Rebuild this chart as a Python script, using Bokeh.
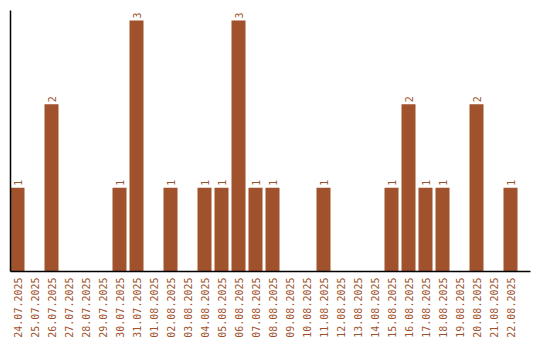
import math
from bokeh.plotting import figure
from bokeh.models import ColumnDataSource, Range1d, FixedTicker
from bokeh.core.properties import value
from bokeh.embed import file_html
from bokeh.resources import INLINE

dates = ["24.07.2025", "25.07.2025", "26.07.2025", "27.07.2025", "28.07.2025",
         "29.07.2025", "30.07.2025", "31.07.2025", "01.08.2025", "02.08.2025",
         "03.08.2025", "04.08.2025", "05.08.2025", "06.08.2025", "07.08.2025",
         "08.08.2025", "09.08.2025", "10.08.2025", "11.08.2025", "12.08.2025",
         "13.08.2025", "14.08.2025", "15.08.2025", "16.08.2025", "17.08.2025",
         "18.08.2025", "19.08.2025", "20.08.2025", "21.08.2025", "22.08.2025"]
counts = [1, 0, 2, 0, 0, 0, 1, 3, 0, 1,
          0, 1, 1, 3, 1, 1, 0, 0, 1, 0,
          0, 0, 1, 2, 1, 1, 0, 2, 0, 1]

COLOR = "#A0522D"
FONT = "DejaVu Sans Mono"
bar_w = 14 / 17
centers = [i + bar_w / 2 for i in range(len(dates))]

src = ColumnDataSource(dict(x=centers, y=counts))
lab_x = [c for c, v in zip(centers, counts) if v > 0]
lab_y = [v for v in counts if v > 0]
lab_t = [str(v) for v in counts if v > 0]
lsrc = ColumnDataSource(dict(x=lab_x, y=lab_y, t=lab_t))

p = figure(width=540, height=340, output_backend="svg", toolbar_location=None,
           x_range=Range1d(0, 520 / 17), y_range=Range1d(0, 3.12),
           min_border_left=10, min_border_top=10, min_border_right=10,
           min_border_bottom=0)
p.vbar(x="x", top="y", width=bar_w, bottom=0, source=src,
       fill_color=COLOR, line_color=None)
p.text(x="x", y="y", text="t", source=lsrc, angle=math.pi / 2,
       text_align="left", text_baseline="middle", y_offset=-2,
       text_font=value(FONT), text_font_size="10px", text_color=COLOR)

p.xgrid.visible = False
p.ygrid.visible = False
p.outline_line_color = None

xa = p.xaxis[0]
xa.ticker = FixedTicker(ticks=centers)
xa.major_label_overrides = {c: d for c, d in zip(centers, dates)}
xa.major_label_orientation = math.pi / 2
xa.major_label_text_font = FONT
xa.major_label_text_font_size = "10px"
xa.major_label_text_color = COLOR
xa.major_tick_line_color = None
xa.minor_tick_line_color = None
xa.major_tick_out = 0
xa.major_label_standoff = 6
xa.axis_line_color = "black"
xa.axis_line_width = 1.5

ya = p.yaxis[0]
ya.ticker = FixedTicker(ticks=[])
ya.major_tick_line_color = None
ya.minor_tick_line_color = None
ya.major_tick_out = 0
ya.major_label_standoff = 0
ya.axis_line_color = "black"
ya.axis_line_width = 1.5

open("out.html", "w").write(file_html(p, INLINE))
